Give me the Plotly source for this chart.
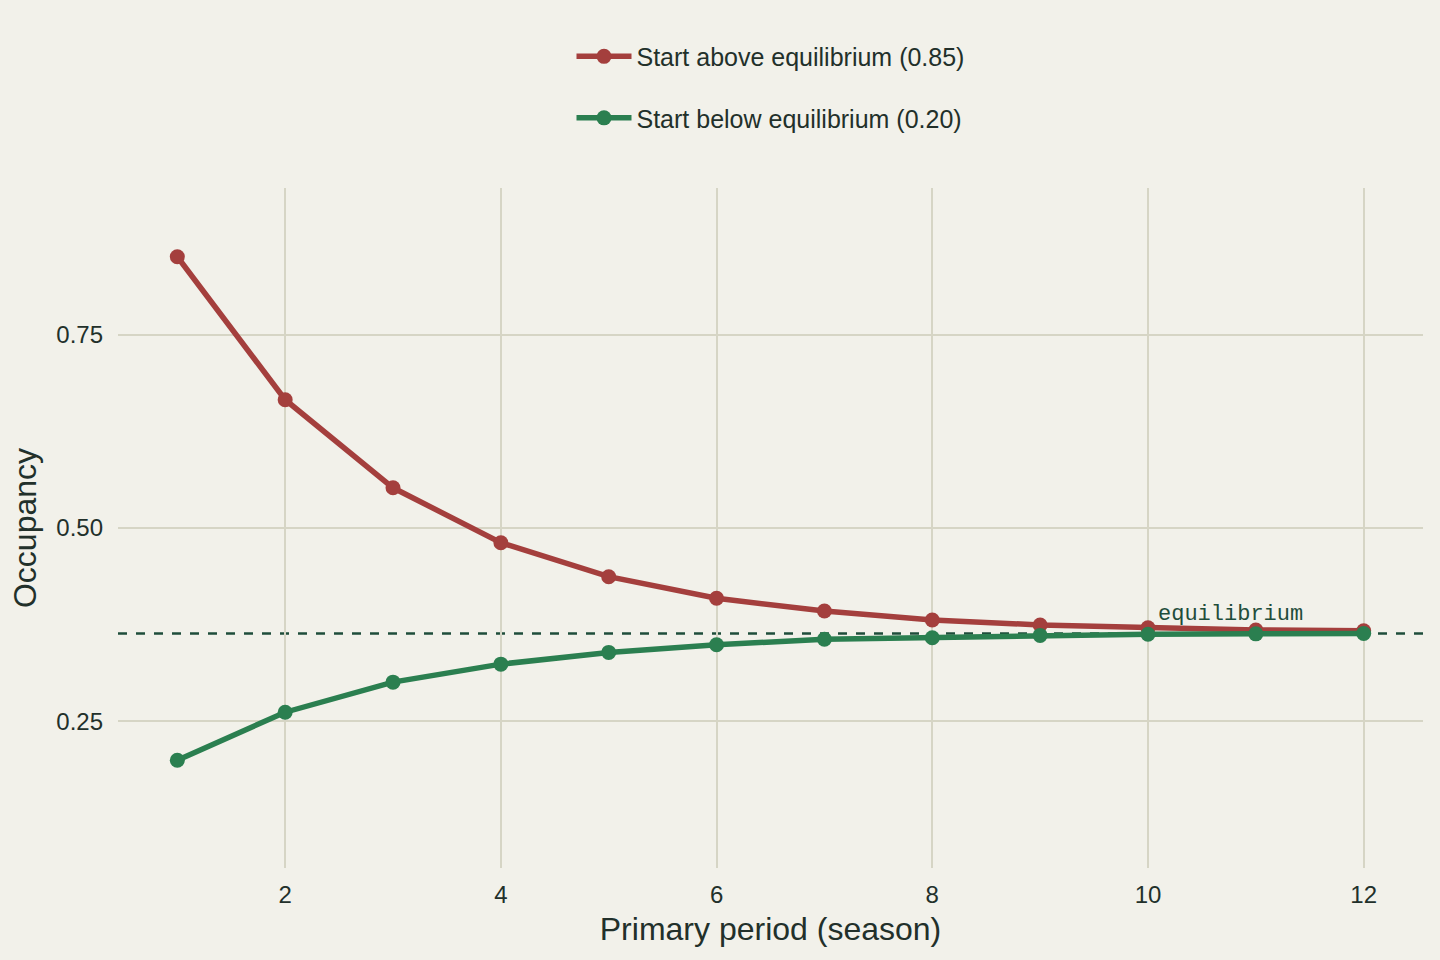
import plotly.graph_objects as go

periods = [1, 2, 3, 4, 5, 6, 7, 8, 9, 10, 11, 12]
above = [0.851, 0.666, 0.552, 0.481, 0.437, 0.409, 0.3925, 0.381, 0.3745, 0.371, 0.368, 0.367]
below = [0.1995, 0.2616, 0.3005, 0.3238, 0.339, 0.349, 0.356, 0.358, 0.361, 0.3625, 0.3630, 0.3635]
equilibrium = 0.3635
names = ["Start above equilibrium (0.85)", "Start below equilibrium (0.20)"]

RED = "#a43f3d"
GREEN = "#2b7f50"
EQ = "#1f4d3b"
BG = "#f2f1ea"
GRID = "#d6d5c5"
TXT = "#22302a"
FONT = "Liberation Sans, Arial, sans-serif"

fig = go.Figure()
fig.add_trace(go.Scatter(x=periods, y=above, mode="lines+markers", name=names[0],
                         legendgroup="a",
                         line=dict(color=RED, width=5.5), marker=dict(size=15, color=RED)))
fig.add_trace(go.Scatter(x=periods, y=below, mode="lines+markers", name=names[1],
                         legendgroup="b",
                         line=dict(color=GREEN, width=5.5), marker=dict(size=15, color=GREEN)))

fig.add_hline(y=equilibrium, line=dict(color=EQ, width=2.5, dash="dash"), layer="below")
fig.add_annotation(x=10, y=equilibrium, text="equilibrium", showarrow=False,
                   xanchor="left", yanchor="bottom", xshift=8, yshift=4,
                   font=dict(family="Liberation Mono, Courier New, monospace", size=22, color=EQ))

fig.update_layout(
    width=1440, height=960,
    paper_bgcolor=BG, plot_bgcolor=BG,
    margin=dict(l=118, r=17, t=188, b=92),
    font=dict(family=FONT, color=TXT, size=24),
    legend=dict(x=0.5, xanchor="center", y=0.965, yref="container", yanchor="top",
                orientation="v", font=dict(size=25), tracegroupgap=26,
                bgcolor="rgba(0,0,0,0)", itemwidth=55),
    xaxis=dict(range=[0.45, 12.55], tickvals=[2, 4, 6, 8, 10, 12], showgrid=True,
               gridcolor=GRID, gridwidth=1.5, zeroline=False, showline=False,
               title=dict(text="Primary period (season)", font=dict(size=32), standoff=10),
               ticks="", tickfont=dict(size=24), ticklabelstandoff=10),
    yaxis=dict(range=[0.06, 0.94], tickvals=[0.25, 0.5, 0.75], ticktext=["0.25", "0.50", "0.75"],
               showgrid=True, gridcolor=GRID, gridwidth=1.5, zeroline=False, showline=False,
               title=dict(text="Occupancy", font=dict(size=32), standoff=10),
               ticks="", tickfont=dict(size=24), ticklabelstandoff=14),
)

fig.write_html("out.html")
